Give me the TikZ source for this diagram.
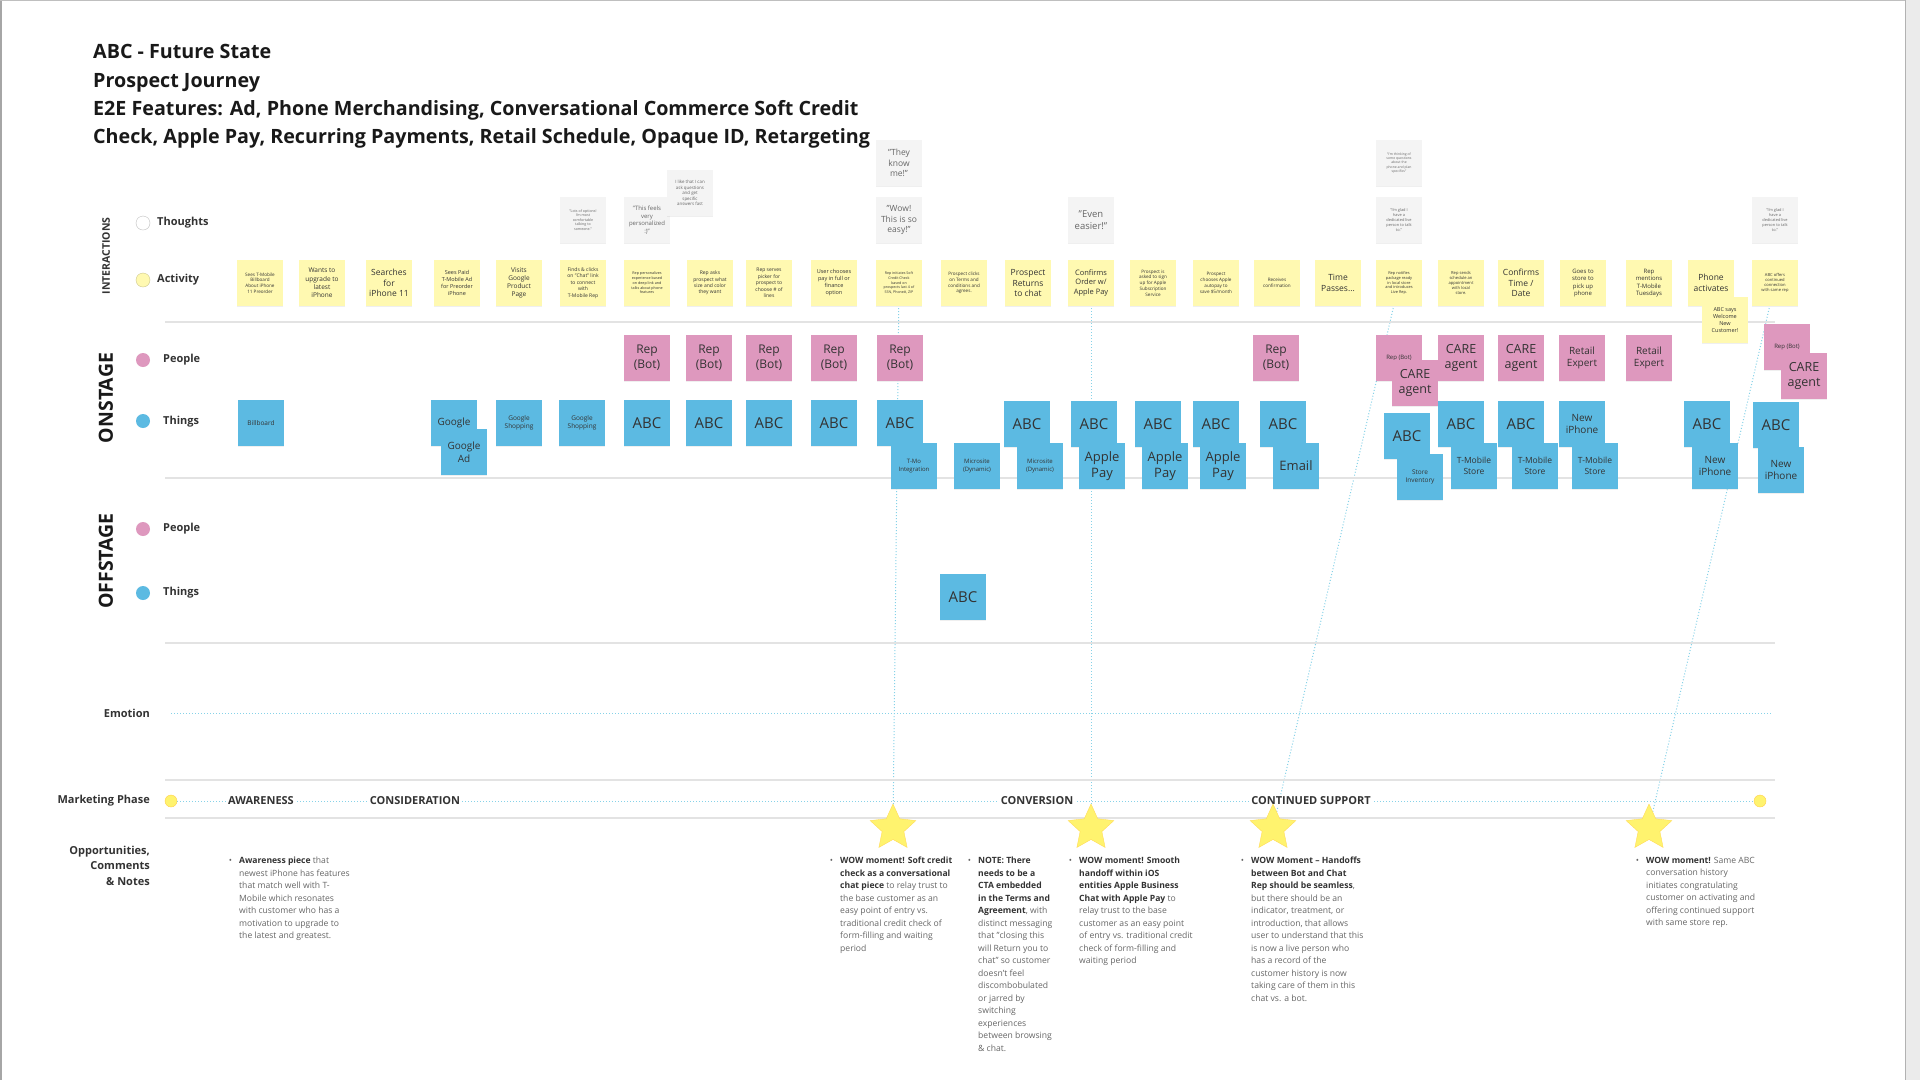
\documentclass[tikz,border=0pt]{standalone}
\usepackage{fontspec}
\setmainfont{Open Sans}
\usetikzlibrary{shapes.geometric,backgrounds,shadows}
\definecolor{sticky}{HTML}{FFF9B1}
\definecolor{rose}{HTML}{DE98BE}
\definecolor{sky}{HTML}{5CBAE2}
\definecolor{thought}{HTML}{F4F4F4}
\definecolor{ink}{HTML}{333333}
\definecolor{rulegray}{HTML}{E3E3E3}
\definecolor{dots}{HTML}{86D2E8}
\definecolor{wowfill}{HTML}{FFF36E}
\definecolor{notegray}{HTML}{666666}
\newcommand{\fsz}[2]{\fontsize{#1}{#2}\selectfont}
\newcommand{\notebullet}{\makebox[0pt][r]{\textbullet\hspace{7pt}}}
\newcommand{\wowtext}[1]{\textcolor{ink}{\textbf{#1}}}

\begin{document}
\begin{tikzpicture}[x=1pt,y=-1pt,
  card/.style={minimum width=46pt,minimum height=46pt,inner sep=0pt,align=center,text=ink,
    drop shadow={shadow xshift=0pt,shadow yshift=-1pt,opacity=0.12}},
  act/.style={card,fill=sticky},
  thk/.style={card,fill=thought,text=black!60},
  ppl/.style={card,fill=rose},
  thg/.style={card,fill=sky},
  bul/.style={circle,minimum size=14pt,inner sep=0pt},
  rowlbl/.style={anchor=west,inner sep=0pt,font=\bfseries\fsz{11}{13},text=ink},
  stagelbl/.style={rotate=90,font=\bfseries\fsz{19.5}{23},text=black!90},
  sidelbl/.style={anchor=east,inner sep=0pt,font=\bfseries\fsz{11}{15.3},text=ink},
  phase/.style={font=\bfseries\fsz{11}{13},text=ink,fill=white,inner sep=2pt},
  note/.style={anchor=north west,align=left,inner sep=0pt,text=notegray,font=\fsz{8.6}{12.5}},
  wow/.style={star,star points=5,star point ratio=2.1,minimum size=48pt,inner sep=0pt,fill=wowfill,draw=wowfill!80!orange},
  dotline/.style={dots,dotted,line width=1pt},
  titleln/.style={anchor=base west,inner sep=0pt,font=\bfseries\fsz{19.7}{23},text=black!90}]

\useasboundingbox (0,0) rectangle (1920,1080);

\draw (93,58) node[titleln] (title1) {ABC - Future State};
\draw (93,87) node[titleln] (title2) {Prospect Journey};
\draw (93,115) node[titleln] (title3) {E2E Features: Ad, Phone Merchandising, Conversational Commerce Soft Credit};
\draw (93,143) node[titleln] (title4) {Check, Apple Pay, Recurring Payments, Retail Schedule, Opaque ID, Retargeting};

\draw (106,256) node[rotate=90,font=\bfseries\fsz{10.5}{12},text=ink] (lint) {INTERACTIONS};
\draw (143,223) node[bul,fill=white,draw=black!25] (cthought) {};
\draw (157,223) node[rowlbl] (lthought) {Thoughts};
\draw (143,280) node[bul,fill=sticky,draw=sticky!80!black] (cactivity) {};
\draw (157,280) node[rowlbl] (lactivity) {Activity};

\draw (106,398) node[stagelbl] (lon) {ONSTAGE};
\draw (143,360) node[bul,fill=rose] (conpeople) {};
\draw (163,360) node[rowlbl] (lonpeople) {People};
\draw (143,421) node[bul,fill=sky] (conthings) {};
\draw (163,422) node[rowlbl] (lonthings) {Things};

\draw (106,561) node[stagelbl] (loff) {OFFSTAGE};
\draw (143,529) node[bul,fill=rose] (coffpeople) {};
\draw (163,529) node[rowlbl] (loffpeople) {People};
\draw (143,593) node[bul,fill=sky] (coffthings) {};
\draw (163,593) node[rowlbl] (loffthings) {Things};

\draw (150,713) node[sidelbl] (lemotion) {Emotion};
\draw (150,801) node[sidelbl] (lphase) {Marketing Phase};
\draw (150,846) node[sidelbl,anchor=north east,align=right] (lnotes) {Opportunities,\\Comments\\\& Notes};

\draw[rulegray,line width=2pt] (165,322) -- (1775,322);
\draw[rulegray,line width=2pt] (165,478) -- (1775,478);
\draw[rulegray,line width=2pt] (165,643) -- (1775,643);
\draw[rulegray,line width=2pt] (165,780) -- (1775,780);
\draw[rulegray,line width=2pt] (165,818) -- (1775,818);

% thoughts
\draw (583,220) node[thk,font=\fsz{3.6}{4.5}] (t1) {"Lots of options!\\I'm most\\comfortable\\talking to\\someone."};
\draw (647,220) node[thk,font=\fsz{6}{7.6}] (t2) {"This feels\\very\\personalized\\:)"};
\draw (690,193) node[thk,font=\fsz{4.4}{5.6}] (t3) {I like that I can\\ask questions\\and get\\specific\\answers fast};
\draw (899,163) node[thk,font=\fsz{8.5}{10.5}] (t4) {"They\\know\\me!"};
\draw (899,220) node[thk,font=\fsz{8.5}{10.5}] (t5) {"Wow!\\This is so\\easy!"};
\draw (1091,220) node[thk,font=\fsz{9.5}{12}] (t6) {"Even\\easier!"};
\draw (1399,163) node[thk,font=\fsz{3.4}{4.4}] (t7) {"I'm thinking of\\some questions\\about the\\phone and plan\\specifics"};
\draw (1399,220) node[thk,font=\fsz{3.9}{5}] (t8) {"I'm glad I\\have a\\dedicated live\\person to talk\\to."};
\draw (1775,220) node[thk,font=\fsz{3.9}{5}] (t9) {"I'm glad I\\have a\\dedicated live\\person to talk\\to."};

% activity
\draw (260,283) node[act,font=\fsz{4.6}{5.8}] (a1) {Sees T-Mobile\\Billboard\\About iPhone\\11 Preorder};
\draw (322,283) node[act,font=\fsz{6.5}{8.2}] (a2) {Wants to\\upgrade to\\latest\\iPhone};
\draw (389,283) node[act,font=\fsz{8.5}{10.5}] (a3) {Searches\\for\\iPhone 11};
\draw (457,283) node[act,font=\fsz{5.5}{7}] (a4) {Sees Paid\\T-Mobile Ad\\for Preorder\\iPhone};
\draw (519,283) node[act,font=\fsz{6.5}{8.2}] (a5) {Visits\\Google\\Product\\Page};
\draw (583,283) node[act,font=\fsz{5}{6.4}] (a6) {Finds \& clicks\\on "Chat" link\\to connect\\with\\T-Mobile Rep};
\draw (647,283) node[act,font=\fsz{3.7}{4.7}] (a7) {Rep personalizes\\experience based\\on deep link and\\talks about phone\\features};
\draw (710,283) node[act,font=\fsz{5}{6.4}] (a8) {Rep asks\\prospect what\\size and color\\they want};
\draw (769,283) node[act,font=\fsz{5}{6.4}] (a9) {Rep serves\\picker for\\prospect to\\choose \# of\\lines};
\draw (834,283) node[act,font=\fsz{5.5}{7}] (a10) {User chooses\\pay in full or\\finance\\option};
\draw (899,283) node[act,font=\fsz{3.6}{4.6}] (a11) {Rep initiates Soft\\Credit Check\\based on\\prospects last 4 of\\SSN, Phone\#, ZIP};
\draw (964,283) node[act,font=\fsz{4.6}{5.8}] (a12) {Prospect clicks\\on Terms and\\conditions and\\agrees.};
\draw (1028,283) node[act,font=\fsz{8.5}{10.5}] (a13) {Prospect\\Returns\\to chat};
\draw (1091,283) node[act,font=\fsz{7.5}{9.5}] (a14) {Confirms\\Order w/\\Apple Pay};
\draw (1153,283) node[act,font=\fsz{4.6}{5.8}] (a15) {Prospect is\\asked to sign\\up for Apple\\Subscription\\Service};
\draw (1216,283) node[act,font=\fsz{4.6}{5.8}] (a16) {Prospect\\chooses Apple\\autopay to\\save \$5/month};
\draw (1277,283) node[act,font=\fsz{4.6}{5.8}] (a17) {Receives\\confirmation};
\draw (1338,283) node[act,font=\fsz{8.5}{10.5}] (a18) {Time\\Passes...};
\draw (1399,283) node[act,font=\fsz{3.9}{4.9}] (a19) {Rep notifies\\package ready\\in local store\\and introduces\\Live Rep.};
\draw (1461,283) node[act,font=\fsz{4.1}{5.2}] (a20) {Rep sends\\schedule an\\appointment\\with local\\store.};
\draw (1521,283) node[act,font=\fsz{8.5}{10.5}] (a21) {Confirms\\Time /\\Date};
\draw (1583,283) node[act,font=\fsz{6}{7.6}] (a22) {Goes to\\store to\\pick up\\phone};
\draw (1649,283) node[act,font=\fsz{6}{7.6}] (a23) {Rep\\mentions\\T-Mobile\\Tuesdays};
\draw (1711,283) node[act,font=\fsz{8.5}{10.5}] (a24) {Phone\\activates};
\draw (1775,283) node[act,font=\fsz{4.1}{5.2}] (a25) {ABC offers\\continued\\connection\\with same rep};
\draw (1725,320) node[act,font=\fsz{5.5}{7}] (a26) {ABC says\\Welcome\\New\\Customer!};

% onstage people
\draw (647,358) node[ppl,font=\fsz{12}{15}] (p1) {Rep\\(Bot)};
\draw (709,358) node[ppl,font=\fsz{12}{15}] (p2) {Rep\\(Bot)};
\draw (769,358) node[ppl,font=\fsz{12}{15}] (p3) {Rep\\(Bot)};
\draw (834,358) node[ppl,font=\fsz{12}{15}] (p4) {Rep\\(Bot)};
\draw (900,358) node[ppl,font=\fsz{12}{15}] (p5) {Rep\\(Bot)};
\draw (1276,358) node[ppl,font=\fsz{12}{15}] (p6) {Rep\\(Bot)};
\draw (1399,358) node[ppl,font=\fsz{6}{7.5}] (p7) {Rep (Bot)};
\draw (1415,383) node[ppl,font=\fsz{12.5}{15.5}] (p8) {CARE\\agent};
\draw (1461,358) node[ppl,font=\fsz{12.5}{15.5}] (p9) {CARE\\agent};
\draw (1521,358) node[ppl,font=\fsz{12.5}{15.5}] (p10) {CARE\\agent};
\draw (1582,358) node[ppl,font=\fsz{10}{12.5}] (p11) {Retail\\Expert};
\draw (1649,358) node[ppl,font=\fsz{10}{12.5}] (p12) {Retail\\Expert};
\draw (1787,347) node[ppl,font=\fsz{6}{7.5}] (p13) {Rep (Bot)};
\draw (1804,376) node[ppl,font=\fsz{12.5}{15.5}] (p14) {CARE\\agent};

% onstage things
\draw (261,423) node[thg,font=\fsz{6.5}{8}] (g1) {Billboard};
\draw (454,423) node[thg,font=\fsz{10}{12.5}] (g2) {Google};
\draw (464,452) node[thg,font=\fsz{10}{12.5}] (g3) {Google\\Ad};
\draw (519,423) node[thg,font=\fsz{6.5}{8.2}] (g4) {Google\\Shopping};
\draw (582,423) node[thg,font=\fsz{6.5}{8.2}] (g5) {Google\\Shopping};
\draw (647,423) node[thg,font=\fsz{15}{18}] (g6) {ABC};
\draw (709,423) node[thg,font=\fsz{15}{18}] (g7) {ABC};
\draw (769,423) node[thg,font=\fsz{15}{18}] (g8) {ABC};
\draw (834,423) node[thg,font=\fsz{15}{18}] (g9) {ABC};
\draw (900,423) node[thg,font=\fsz{15}{18}] (g10) {ABC};
\draw (914,466) node[thg,font=\fsz{6}{7.8}] (g11) {T-Mo\\Integration};
\draw (977,466) node[thg,font=\fsz{6}{7.8}] (g12) {Microsite\\(Dynamic)};
\draw (1027,424) node[thg,font=\fsz{15}{18}] (g13) {ABC};
\draw (1040,466) node[thg,font=\fsz{6}{7.8}] (g14) {Microsite\\(Dynamic)};
\draw (1094,424) node[thg,font=\fsz{15}{18}] (g15) {ABC};
\draw (1102,466) node[thg,font=\fsz{13}{16}] (g16) {Apple\\Pay};
\draw (1158,424) node[thg,font=\fsz{15}{18}] (g17) {ABC};
\draw (1165,466) node[thg,font=\fsz{13}{16}] (g18) {Apple\\Pay};
\draw (1216,424) node[thg,font=\fsz{15}{18}] (g19) {ABC};
\draw (1223,466) node[thg,font=\fsz{13}{16}] (g20) {Apple\\Pay};
\draw (1283,424) node[thg,font=\fsz{15}{18}] (g21) {ABC};
\draw (1296,466) node[thg,font=\fsz{13}{16}] (g22) {Email};
\draw (1407,436) node[thg,font=\fsz{15}{18}] (g23) {ABC};
\draw (1420,477) node[thg,font=\fsz{6.5}{8.2}] (g24) {Store\\Inventory};
\draw (1461,424) node[thg,font=\fsz{15}{18}] (g25) {ABC};
\draw (1474,466) node[thg,font=\fsz{8.5}{10.5}] (g26) {T-Mobile\\Store};
\draw (1521,424) node[thg,font=\fsz{15}{18}] (g27) {ABC};
\draw (1535,466) node[thg,font=\fsz{8.5}{10.5}] (g28) {T-Mobile\\Store};
\draw (1582,424) node[thg,font=\fsz{10}{12.5}] (g29) {New\\iPhone};
\draw (1595,466) node[thg,font=\fsz{8.5}{10.5}] (g30) {T-Mobile\\Store};
\draw (1707,424) node[thg,font=\fsz{15}{18}] (g31) {ABC};
\draw (1715,466) node[thg,font=\fsz{10}{12.5}] (g32) {New\\iPhone};
\draw (1776,425) node[thg,font=\fsz{15}{18}] (g33) {ABC};
\draw (1781,470) node[thg,font=\fsz{10}{12.5}] (g34) {New\\iPhone};

% offstage things
\draw (963,597) node[thg,font=\fsz{15}{18}] (g35) {ABC};

% marketing phase
\draw (171,713) coordinate (em0);
\draw (1772,713) coordinate (em1);
\draw (171,801) node[bul,minimum size=12pt,fill=wowfill,draw=wowfill!70!orange] (mp0) {};
\draw (1760,801) node[bul,minimum size=12pt,fill=wowfill,draw=wowfill!70!orange] (mp1) {};
\draw (261,801) node[phase] (ph1) {AWARENESS};
\draw (415,801) node[phase] (ph2) {CONSIDERATION};
\draw (1037,801) node[phase] (ph3) {CONVERSION};
\draw (1311,801) node[phase] (ph4) {CONTINUED SUPPORT};

\draw (893,828) node[wow] (s1) {};
\draw (1091,828) node[wow] (s2) {};
\draw (1273,828) node[wow] (s3) {};
\draw (1649,828) node[wow] (s4) {};

% notes
\draw (239,857) node[note] (n0) {\notebullet\wowtext{Awareness piece} that\\newest iPhone has features\\that match well with T-\\Mobile which resonates\\with customer who has a\\motivation to upgrade to\\the latest and greatest.};
\draw (840,857) node[note] (n1) {\notebullet\wowtext{WOW moment! Soft credit}\\\wowtext{check as a conversational}\\\wowtext{chat piece} to relay trust to\\the base customer as an\\easy point of entry vs.\\traditional credit check of\\form-filling and waiting\\period};
\draw (978,857) node[note] (n2) {\notebullet\wowtext{NOTE: There}\\\wowtext{needs to be a}\\\wowtext{CTA embedded}\\\wowtext{in the Terms and}\\\wowtext{Agreement}, with\\distinct messaging\\that "closing this\\will Return you to\\chat" so customer\\doesn't feel\\discombobulated\\or jarred by\\switching\\experiences\\between browsing\\\& chat.};
\draw (1079,857) node[note] (n3) {\notebullet\wowtext{WOW moment! Smooth}\\\wowtext{handoff within iOS}\\\wowtext{entities Apple Business}\\\wowtext{Chat with Apple Pay} to\\relay trust to the base\\customer as an easy point\\of entry vs. traditional credit\\check of form-filling and\\waiting period};
\draw (1251,857) node[note] (n4) {\notebullet\wowtext{WOW Moment -- Handoffs}\\\wowtext{between Bot and Chat}\\\wowtext{Rep should be seamless},\\but there should be an\\indicator, treatment, or\\introduction, that allows\\user to understand that this\\is now a live person who\\has a record of the\\customer history is now\\taking care of them in this\\chat vs. a bot.};
\draw (1646,857) node[note] (n5) {\notebullet\wowtext{WOW moment!} Same ABC\\conversation history\\initiates congratulating\\customer on activating and\\offering continued support\\with same store rep.};

\begin{scope}[on background layer]
\fill[white] (0,0) rectangle (1920,1080);
\draw[dotline] (em0) -- (em1);
\draw[dotline] (mp0) -- (mp1);
\draw[dotline] (s1) -- (a11);
\draw[dotline] (s2) -- (a14);
\draw[dotline] (s3) -- (a19);
\draw[dotline] (s4) -- (a25);
\end{scope}

\draw[black!35,line width=2pt] (1,0) -- (1,1080);
\draw[black!25,line width=1pt] (0,0.5) -- (1905,0.5);
\fill[black!8] (1905,0) rectangle (1920,1080);
\draw[black!30,line width=1pt] (1905,0) -- (1905,1080);
\end{tikzpicture}
\end{document}
